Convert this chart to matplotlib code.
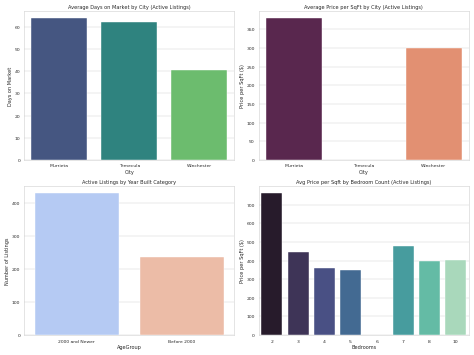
import numpy as np
import pandas as pd
import matplotlib
matplotlib.use("Agg")
import matplotlib.pyplot as plt
import seaborn as sns

sns.set_theme(style="whitegrid")

cities = ["Murrieta", "Temecula", "Winchester"]
days_on_market = [63.8, 62.3, 40.7]
price_sqft_city = [379, np.nan, 300]

age_groups = ["2000 and Newer", "Before 2000"]
listing_counts = [430, 238]

bedrooms = ["2", "3", "4", "5", "6", "7", "8", "10"]
price_sqft_bed = [761, 445, 362, 350, np.nan, 479, 398, 404]

fig, axes = plt.subplots(2, 2, figsize=(16, 12), dpi=474 / 16)

def bar(ax, cats, vals, palette, title, xlabel, ylabel):
    df = pd.DataFrame({"x": cats, "y": vals})
    sns.barplot(data=df, x="x", y="y", hue="x", order=cats, hue_order=cats,
                palette=palette, legend=False, ax=ax)
    ax.set_title(title)
    ax.set_xlabel(xlabel)
    ax.set_ylabel(ylabel)

bar(axes[0, 0], cities, days_on_market, "viridis",
    "Average Days on Market by City (Active Listings)", "City", "Days on Market")
bar(axes[0, 1], cities, price_sqft_city, "rocket",
    "Average Price per SqFt by City (Active Listings)", "City", "Price per SqFt ($)")
bar(axes[1, 0], age_groups, listing_counts, "coolwarm",
    "Active Listings by Year Built Category", "AgeGroup", "Number of Listings")
bar(axes[1, 1], bedrooms, price_sqft_bed, "mako",
    "Avg Price per Sqft by Bedroom Count (Active Listings)", "Bedrooms", "Price per SqFt ($)")

plt.tight_layout()
fig.savefig("out.png", dpi=474 / 16)
